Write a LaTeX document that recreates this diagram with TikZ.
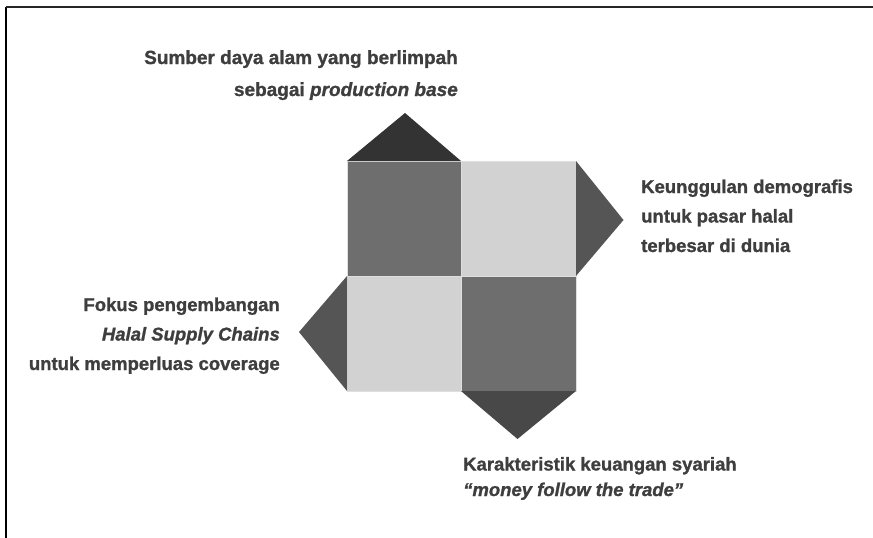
\documentclass[tikz,border=0pt]{standalone}
\usepackage{fontspec}
\setmainfont{Liberation Sans}[BoldFeatures={FakeBold=1.2},BoldItalicFeatures={FakeBold=1.2}]
\definecolor{txt}{HTML}{3E3E3E}
\definecolor{sqdark}{HTML}{6E6E6E}
\definecolor{sqlight}{HTML}{D2D2D2}
\definecolor{tritop}{HTML}{333333}
\definecolor{triside}{HTML}{555555}
\definecolor{tribot}{HTML}{484848}
\begin{document}
\begin{tikzpicture}[x=1pt,y=-1pt,
  label/.style={inner sep=0pt, text=txt, font=\fontsize{18.5}{29.5}\selectfont\bfseries},
  cell/.style={draw=sqlight!70!white, line width=0.8pt}]
\useasboundingbox (0,0) rectangle (873,538);
% partial frame
\draw[line width=2.5pt, black] (6,538) -- (6,6.5);
\draw[line width=2pt, black!85] (6,6.5) -- (873,6.5);

% the four squares
\fill[sqdark]  (347,161) rectangle (461,276);
\fill[sqlight] (461,161) rectangle (576,276);
\fill[sqlight] (347,276) rectangle (461,391);
\fill[sqdark]  (461,276) rectangle (576,391);
\draw[cell] (347,161) rectangle (461,276);
\draw[cell] (461,161) rectangle (576,276);
\draw[cell] (347,276) rectangle (461,391);
\draw[cell] (461,276) rectangle (576,391);

% the four pointing triangles
\fill[tritop]  (347,161) -- (405,113) -- (461,161) -- cycle;
\fill[triside] (576,161) -- (623.5,220) -- (576,276) -- cycle;
\fill[triside] (347,276) -- (299,332) -- (347,391) -- cycle;
\fill[tribot]  (461,391) -- (517.5,439) -- (576,391) -- cycle;

% labels (each anchored at the baseline of its last line)
\node[label, font=\fontsize{19}{32}\selectfont\bfseries, align=right, anchor=base east] (top) at (458,96)
  {Sumber daya alam yang berlimpah\\sebagai \textit{production base}};
\node[label, align=left, anchor=base west] (right) at (641,252)
  {Keunggulan demografis\\untuk pasar halal\\terbesar di dunia};
\node[label, align=right, anchor=base east] (left) at (280,370)
  {Fokus pengembangan\\\textit{Halal Supply Chains}\\untuk memperluas coverage};
\node[label, font=\fontsize{18.5}{25.5}\selectfont\bfseries, align=left, anchor=base west] (bottom) at (463,496)
  {Karakteristik keuangan syariah\\\textit{“money follow the trade”}};
\end{tikzpicture}
\end{document}
